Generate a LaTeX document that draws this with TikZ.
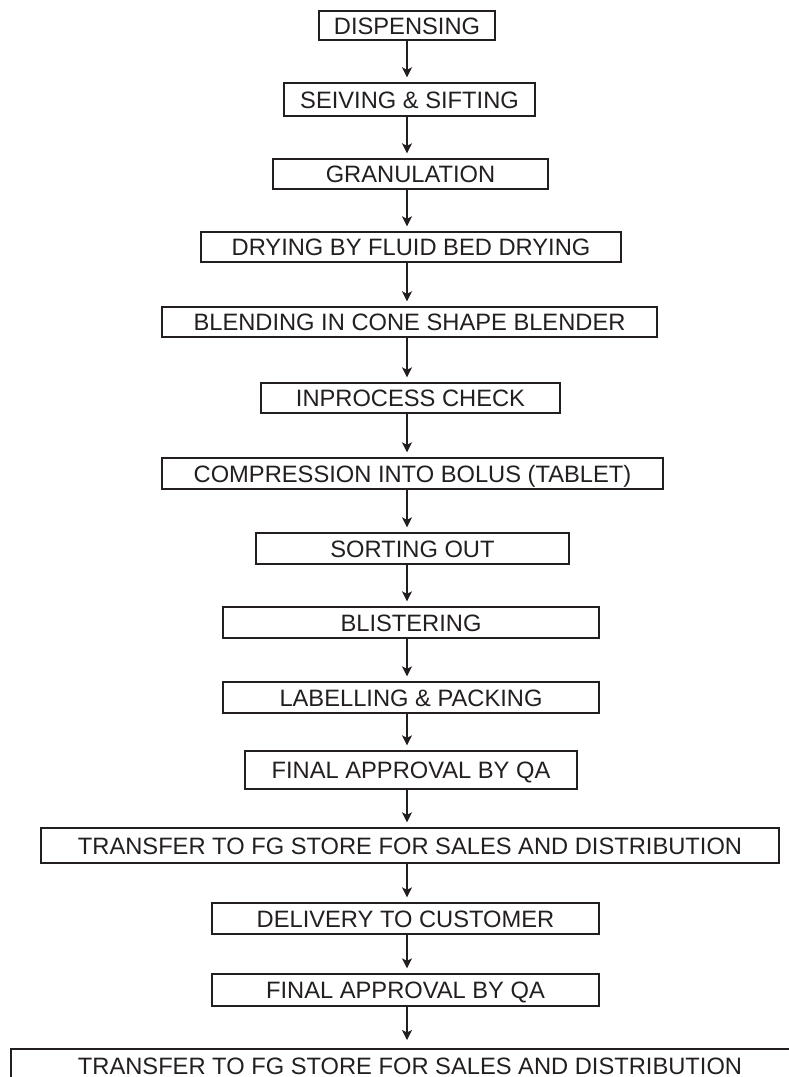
\documentclass[tikz,border=0pt]{standalone}
\usepackage{fontspec}
\setmainfont{Liberation Sans}
\usetikzlibrary{arrows.meta}
\definecolor{lc}{HTML}{231F20}
\begin{document}
\begin{tikzpicture}[x=1pt,y=-1pt,
  box/.style={draw=lc, line width=1.4pt, inner sep=0pt, text=lc,
    text height=17pt, text depth=0pt,
    font=\fontsize{23.7}{28}\selectfont},
  lbl/.style={inner sep=0pt, text=lc, text height=17pt, text depth=0pt,
    font=\fontsize{23.7}{28}\selectfont},
  arr/.style={draw=lc, line width=1.4pt, -{Stealth[length=10pt,width=10pt,inset=2.5pt]}, shorten >=5pt}]
\useasboundingbox (0,0) rectangle (789,1077);
\coordinate (ax) at (407,0);
\node[box, minimum width=176pt, minimum height=29pt] (n1) at (407,25.5) {DISPENSING};
\node[box, minimum width=251pt, minimum height=33pt] (n2) at (409.5,99.5) {SEIVING \& SIFTING};
\node[box, minimum width=275pt, minimum height=30pt] (n3) at (410.5,174) {GRANULATION};
\node[box, minimum width=420pt, minimum height=30pt] (n4) at (411,247) {DRYING BY FLUID BED DRYING};
\node[box, minimum width=495pt, minimum height=30pt] (n5) at (409.5,322) {BLENDING IN CONE SHAPE BLENDER};
\node[box, minimum width=299pt, minimum height=30pt] (n6) at (410.5,398) {INPROCESS CHECK};
\node[box, minimum width=501pt, minimum height=31pt] (n7) at (412.5,473.5) {COMPRESSION INTO BOLUS (TABLET)};
\node[box, minimum width=313pt, minimum height=31pt] (n8) at (412.5,548.5) {SORTING OUT};
\node[box, minimum width=376pt, minimum height=31pt] (n9) at (411,622.5) {BLISTERING};
\node[box, minimum width=376pt, minimum height=31pt] (n10) at (411,697.5) {LABELLING \& PACKING};
\node[box, minimum width=332pt, minimum height=38pt] (n11) at (411,770) {FINAL APPROVAL BY QA};
\node[box, minimum width=738pt, minimum height=35pt] (n12) at (410,845.5) {TRANSFER TO FG STORE FOR SALES AND DISTRIBUTION};
\node[box, minimum width=387pt, minimum height=31pt] (n13) at (405.5,918.5) {DELIVERY TO CUSTOMER};
\node[box, minimum width=387pt, minimum height=32pt] (n14) at (405.5,990) {FINAL APPROVAL BY QA};
\begin{scope}
  \clip (0,0) rectangle (789,1077);
  \draw[lc, line width=1.4pt] (11,1100) -- (11,1049) -- (800,1049);
\end{scope}
\node[lbl] (n15) at (410,1065.5) {TRANSFER TO FG STORE FOR SALES AND DISTRIBUTION};
\coordinate (n15top) at (407,1049);
\foreach \a/\b in {n1/n2,n2/n3,n3/n4,n4/n5,n5/n6,n6/n7,n7/n8,n8/n9,n9/n10,n10/n11,n11/n12,n12/n13,n13/n14}{
  \draw[arr] (\a.south -| ax) -- (\b.north -| ax);
}
\draw[arr, shorten >=9pt] (n14.south -| ax) -- (n15top);
\end{tikzpicture}
\end{document}
